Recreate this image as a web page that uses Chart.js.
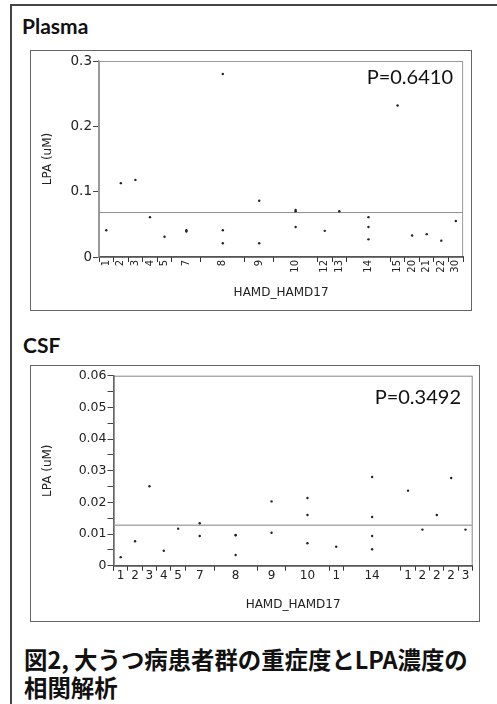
<!DOCTYPE html>
<html><head><meta charset="utf-8">
<script src="https://cdn.jsdelivr.net/npm/chart.js@4"></script>
<style>
html,body{margin:0;padding:0;background:#fff;}
body{width:497px;height:704px;position:relative;overflow:hidden;}
.abs{position:absolute;white-space:nowrap;color:#111;}
.head{font-family:Lato,"Open Sans",sans-serif;font-weight:bold;font-size:21px;line-height:21px;}
.pval{font-family:Lato,"Open Sans",sans-serif;font-size:20px;line-height:20px;text-align:right;}
.ttl{font-family:"Noto Sans CJK JP",sans-serif;font-weight:bold;font-size:23.4px;line-height:28px;}
.frame{position:absolute;border:1.5px solid #666;box-sizing:border-box;}
canvas{position:absolute;}
</style>
</head><body>
<div class="abs" style="left:10px;top:4px;width:1.5px;height:710px;background:#444;"></div>
<div class="abs" style="left:10px;top:4px;width:490px;height:1.5px;background:#444;"></div>

<div class="abs head" style="left:22px;top:15px;">Plasma</div>
<div class="frame" style="left:30px;top:50px;width:442px;height:261px;"></div>
<canvas id="c1" width="440" height="259" style="left:31px;top:51px;"></canvas>
<div class="abs pval" style="right:44px;top:66px;">P=0.6410</div>

<div class="abs head" style="left:23px;top:334px;">CSF</div>
<div class="frame" style="left:30px;top:365px;width:450px;height:257px;"></div>
<canvas id="c2" width="448" height="255" style="left:31px;top:366px;"></canvas>
<div class="abs pval" style="right:36px;top:386px;">P=0.3492</div>

<div class="abs ttl" style="left:24px;top:645px;">図2, 大うつ病患者群の重症度とLPA濃度の<br>相関解析</div>

<script>
// ---- Plasma data ----
const plasmaCategories = ['1','2','3','4','5','7','8','9','10','12','13','14','15','20','21','22','30'];
const plasmaValues = [
  [0.041],[0.113],[0.118],[0.061],[0.031],[0.041,0.039],[0.280,0.041,0.021],
  [0.086,0.021],[0.072,0.070,0.046],[0.040],[0.070],[0.061,0.046,0.027],
  [0.232],[0.033],[0.035],[0.025],[0.055]
];
const plasmaMean = 0.068;
const plasmaYTicks = [0, 0.1, 0.2, 0.3];
const plasmaYLabels = ['0','0.1','0.2','0.3'];

// ---- CSF data ----
const csfCategories = ['1','2','3','4','5','7','8','9','10','1','14','1','2','2','2','3'];
const csfValues = [
  [0.0027],[0.0077],[0.0251],[0.0047],[0.0117],[0.0134,0.0094],[0.0097,0.0034,0.0096],
  [0.0203,0.0104],[0.0214,0.0160,0.0071],[0.0060],[0.0280,0.0154,0.0094,0.0052],
  [0.0237],[0.0114],[0.0160],[0.0277],[0.0114]
];
const csfMean = 0.0128;
const csfYTicks = [0,0.005,0.01,0.015,0.02,0.025,0.03,0.035,0.04,0.045,0.05,0.055,0.06];
const csfYLabels = ['0','','0.01','','0.02','','0.03','','0.04','','0.05','','0.06'];

const yTitle = 'LPA (uM)';
const xTitle = 'HAMD_HAMD17';

function groupLayout(values){
  const centers=[], bounds=[0]; let acc=0;
  values.forEach(v=>{centers.push(acc+v.length/2); acc+=v.length; bounds.push(acc);});
  return {centers,bounds,total:acc};
}

const frameBox = {
  id:'frameBox',
  beforeDraw(chart, args, opts){
    const {ctx, chartArea:a} = chart;
    ctx.save();
    ctx.strokeStyle = opts.color || '#888';
    ctx.lineWidth = 1;
    ctx.strokeRect(a.left+0.5, a.top+0.5, a.right-a.left-1, a.bottom-a.top);
    ctx.restore();
  }
};

function makeChart(id, cats, values, mean, yTicks, yLabels, cfg){
  const L = groupLayout(values);
  const pts = [];
  values.forEach((vs,i)=>vs.forEach(y=>pts.push({x:L.centers[i], y})));
  const font = 'DejaVu Sans';
  return new Chart(document.getElementById(id), {
    type:'scatter',
    data:{datasets:[
      {type:'line', data:[{x:0,y:mean},{x:L.total,y:mean}], borderColor:cfg.meanColor, borderWidth:cfg.meanWidth, pointRadius:0, fill:false, order:2},
      {data:pts, pointRadius:1.2, pointBackgroundColor:'#222', pointBorderWidth:0, pointHoverRadius:1.2, order:1}
    ]},
    options:{
      responsive:false, animation:false, devicePixelRatio:1,
      events:[],
      layout:{padding:{top:cfg.padTop, right:cfg.padRight, left:0, bottom:0}},
      plugins:{legend:{display:false}, tooltip:{enabled:false}, frameBox:{color:cfg.boxColor}},
      scales:{
        xb:{type:'linear', position:'bottom', weight:0, min:0, max:L.total,
          afterBuildTicks:s=>{s.ticks=L.bounds.map(v=>({value:v}));},
          afterFit:s=>{s.height=0;},
          ticks:{display:false},
          grid:{drawOnChartArea:false, drawTicks:true, tickLength:5, color:'#333', lineWidth:1},
          border:{display:false}
        },
        x:{type:'linear', position:'bottom', weight:1, min:0, max:L.total,
          afterBuildTicks:s=>{s.ticks=L.centers.map(v=>({value:v}));},
          afterFit:s=>{s.height=cfg.xHeight;},
          ticks:{autoSkip:false, maxRotation:cfg.rot, minRotation:cfg.rot, padding:cfg.xPad,
            callback:(v,i)=>cats[i], color:'#222', font:{family:font, size:cfg.xFont}},
          grid:{display:false, drawTicks:false},
          border:{display:true, color:cfg.xBorder, width:1.5},
          title:{display:true, text:xTitle, color:'#222', font:{family:font, size:12}, padding:{top:0,bottom:cfg.xTitlePad}}
        },
        y:{type:'linear', min:yTicks[0], max:yTicks[yTicks.length-1],
          afterBuildTicks:s=>{s.ticks=yTicks.map(v=>({value:v}));},
          afterFit:s=>{s.width=cfg.yWidth;},
          ticks:{autoSkip:false, padding:1, callback:(v,i)=>yLabels[i], color:'#222', font:{family:font, size:cfg.yFont}},
          grid:{drawOnChartArea:false, tickLength:6, color:'#444'},
          border:{display:true, color:cfg.yBorder, width:1.5},
          title:{display:true, text:yTitle, color:'#222', font:{family:font, size:12}, padding:{top:cfg.yTitlePad,bottom:0}}
        }
      }
    },
    plugins:[frameBox]
  });
}

makeChart('c1', plasmaCategories, plasmaValues, plasmaMean, plasmaYTicks, plasmaYLabels, {
  padTop:10, padRight:5, xHeight:53, yWidth:68, rot:90, xPad:3, xFont:10, yFont:13.5,
  xTitlePad:10, yTitlePad:10, meanColor:'#8c8c8c', meanWidth:1, boxColor:'#999',
  xBorder:'#555', yBorder:'#999'
});
makeChart('c2', csfCategories, csfValues, csfMean, csfYTicks, csfYLabels, {
  padTop:9.7, padRight:6.3, xHeight:55.3, yWidth:82.5, rot:0, xPad:3, xFont:12, yFont:12.5,
  xTitlePad:9, yTitlePad:9.3, meanColor:'#aaa', meanWidth:1.5, boxColor:'#888',
  xBorder:'#555', yBorder:'#666'
});
</script>
</body></html>
